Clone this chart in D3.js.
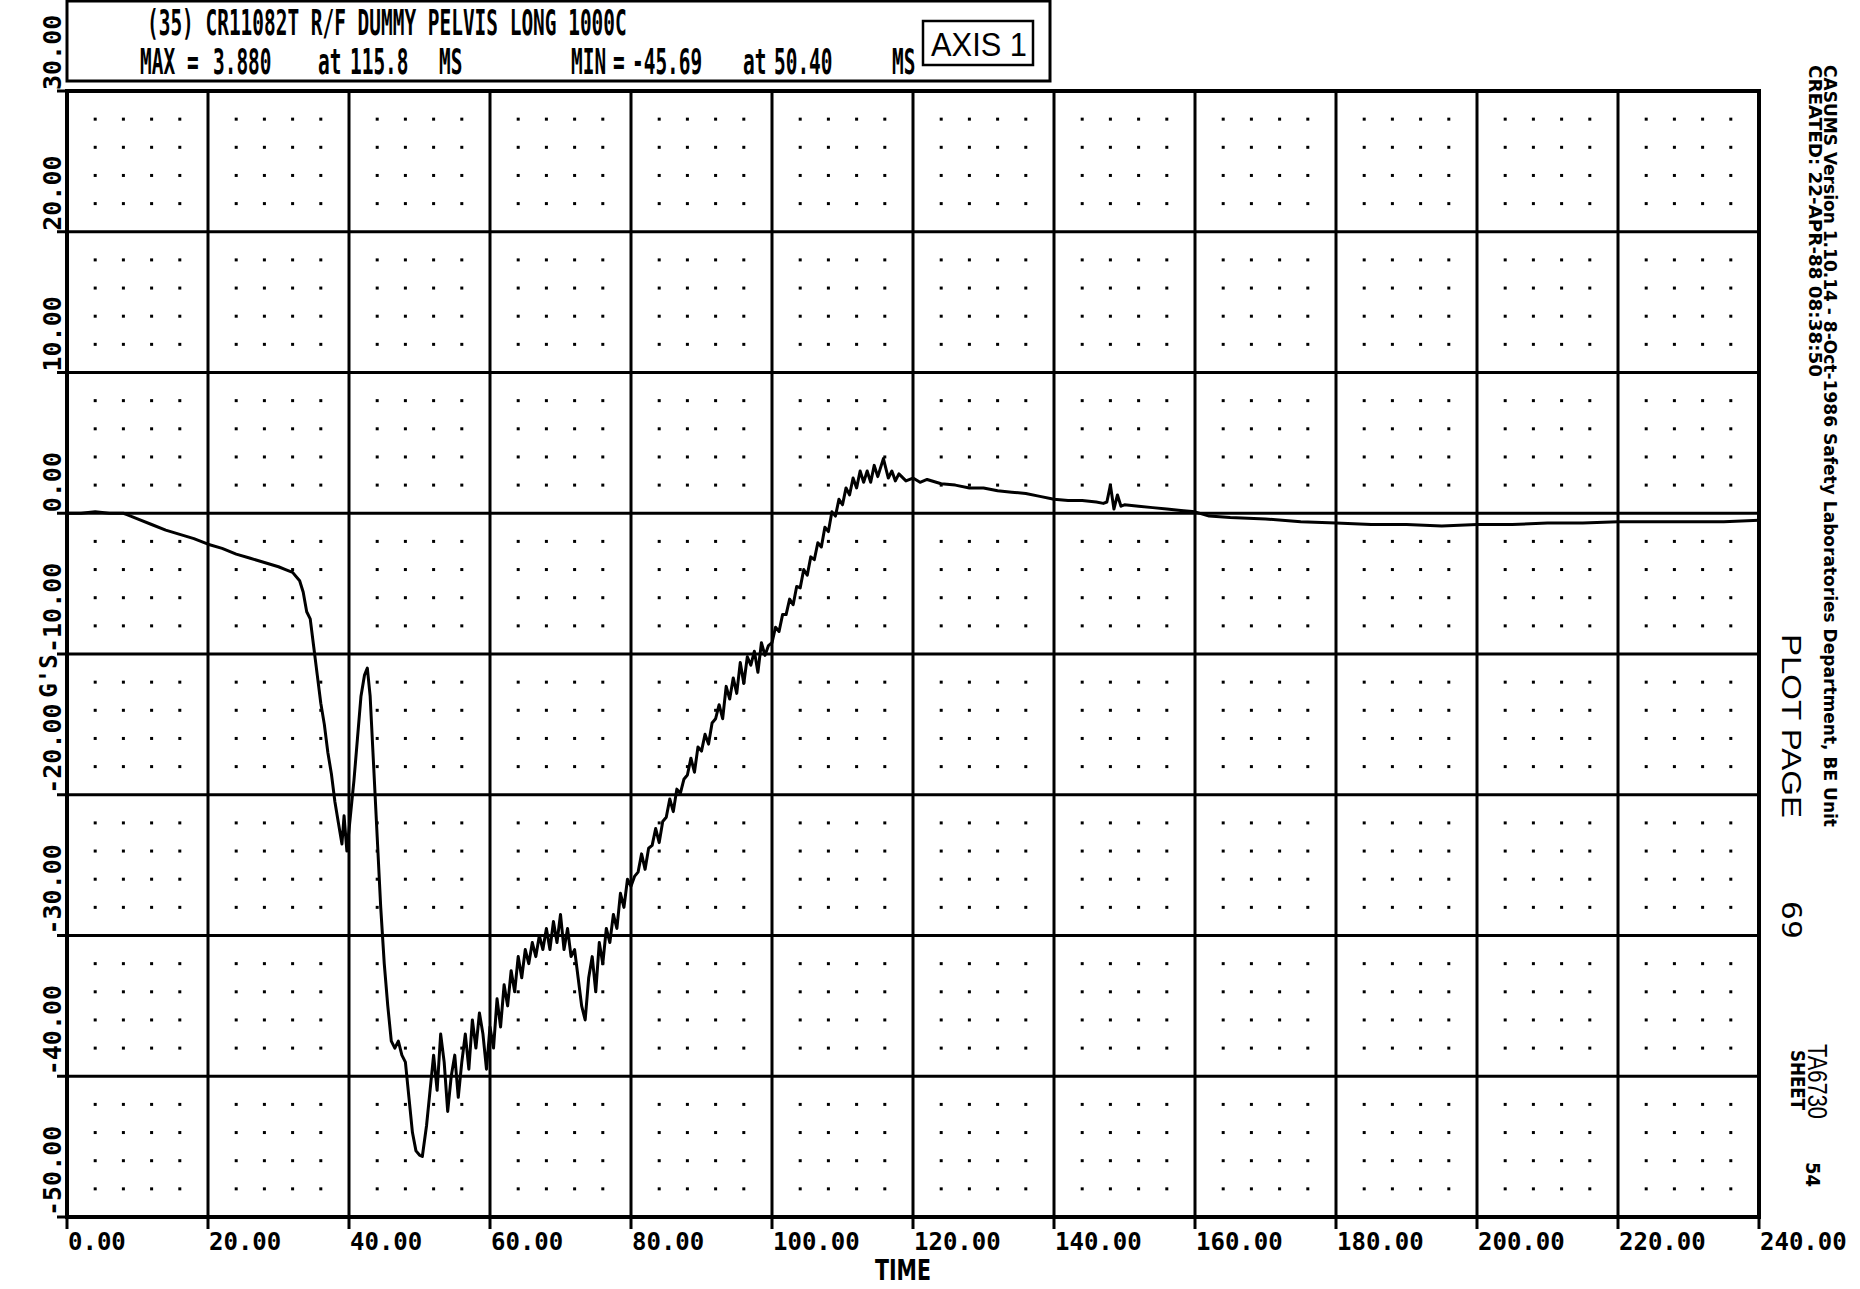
<!DOCTYPE html>
<html>
<head>
<meta charset="utf-8">
<script src="https://cdn.jsdelivr.net/npm/d3@7"></script>
<style>
  body { margin: 0; background: #fff; }
  svg { display: block; background: #fff; }
</style>
</head>
<body>
<svg id="graph"></svg>
<script>
// values (time in ms, pelvis accel in G's)
var timeMs = [
  0, 2, 4, 6, 8, 8.5, 10, 12, 14, 16, 18, 20, 22, 24, 26, 28, 30, 31, 32, 33, 33.5, 34, 34.5,
  35, 35.5, 36, 36.5, 37, 37.5, 38, 38.5, 39, 39.3, 39.7, 40.2, 40.7, 41.2, 41.7, 42.2, 42.6,
  43, 43.5, 44, 44.5, 45, 45.5, 46, 46.5, 47, 47.5, 48, 48.5,
  49, 49.5, 50, 50.4, 51, 51.5, 52, 52.5, 53, 53.5, 54, 54.5, 55, 55.5, 56, 56.5, 57, 57.5,
  58, 58.5, 59, 59.5, 60, 60.5, 61, 61.5, 62, 62.5, 63, 63.5, 64, 64.5, 65, 65.5, 66, 66.5,
  67, 67.5, 68, 68.5, 69, 69.5, 70, 70.5, 71, 71.5, 72, 72.5, 73, 73.5, 74, 74.5, 75, 75.5,
  76, 76.5, 77, 77.5, 78, 78.5, 79, 79.5, 80, 80.5, 81, 81.5, 82, 82.5, 83, 83.5, 84, 84.5,
  85, 85.5, 86, 86.5, 87, 87.5, 88, 88.5, 89, 89.5, 90, 90.5, 91, 91.5, 92, 92.5, 93, 93.5,
  94, 94.5, 95, 95.5, 96, 96.5, 97, 97.5, 98, 98.5, 99, 99.5, 100, 100.5, 101, 101.5, 102,
  102.5, 103, 103.5, 104, 104.5, 105, 105.5, 106, 106.5, 107, 107.5, 108, 108.5, 109, 109.5,
  110, 110.5, 111, 111.5, 112, 112.5, 113, 113.5, 114, 114.5, 115, 115.8, 116.5, 117, 117.5,
  118, 119, 120, 121, 122, 124, 126, 128, 130, 132, 134, 136, 138, 140, 142, 144, 146, 147,
  147.5, 148, 148.5, 149, 149.5, 150, 152, 154, 156, 158, 160, 162, 165, 170, 175, 180, 185,
  190, 195, 200, 205, 210, 215, 220, 225, 230, 235, 240
];
var pelvisG = [
  0, 0, 0.1, 0, 0, -0.1, -0.4, -0.8, -1.2, -1.5, -1.8, -2.2, -2.5, -2.9, -3.2, -3.5, -3.8, -4.0, -4.2, -4.8, -5.6, -7.0, -7.5,
  -9.5, -11.5, -13.5, -15, -17, -18.5, -20.5, -22, -23.5, -21.5, -24, -21.5, -19, -16, -13, -11.5, -11,
  -13, -18, -23, -28, -32, -35, -37.5, -38, -37.5, -38.5, -39, -41.5,
  -44, -45.3, -45.6, -45.7, -43.5, -41, -38.5, -41, -37, -39, -42.5, -40, -38.5, -41.5, -39, -37, -39.5, -36,
  -38, -35.5, -37, -39.5, -36.5, -38, -34.5, -36.5, -33.5, -35, -32.5, -34, -31.5, -33, -31, -32, -30.5, -31.5,
  -30, -31, -29.5, -31, -29, -30.5, -28.5, -31, -29.5, -31.5, -31, -33, -35, -36, -33, -31.5, -34, -30.5,
  -32, -29.5, -30.5, -28.5, -29.5, -27, -28, -26, -26.5, -25.8, -25.5, -24.2, -25.3, -23.8, -23.6, -22.4, -23.4, -21.9,
  -21.6, -20.3, -21.2, -19.6, -19.9, -18.9, -18.6, -17.4, -18.4, -16.6, -16.9, -15.7, -16.4, -14.9, -14.6, -13.6, -14.6, -12.3,
  -13.2, -11.7, -12.8, -10.6, -12.1, -10.2, -10.8, -9.8, -11.3, -9.2, -10.1, -9.4, -9.2, -8.1, -8.4, -7.2, -7.2,
  -6.1, -6.5, -5.2, -5.3, -4.0, -4.4, -3.1, -3.3, -2.1, -2.4, -1.0, -1.3, 0.1, -0.2, 1.0,
  0.6, 1.8, 1.3, 2.5, 1.8, 3.0, 2.2, 3.0, 2.2, 3.4, 2.6, 3.88, 2.5, 3.0, 2.3,
  2.8, 2.3, 2.5, 2.2, 2.4, 2.1, 2.0, 1.8, 1.8, 1.6, 1.5, 1.4, 1.2, 1.0, 0.9, 0.9, 0.8, 0.7,
  0.8, 2.0, 0.3, 1.3, 0.5, 0.6, 0.5, 0.4, 0.3, 0.2, 0.1, -0.2, -0.3, -0.4, -0.6, -0.7, -0.8, -0.8,
  -0.9, -0.8, -0.8, -0.7, -0.7, -0.6, -0.6, -0.6, -0.6, -0.5, -0.4
];

var xTicks = [0, 20, 40, 60, 80, 100, 120, 140, 160, 180, 200, 220, 240];
var xTickLabels = ["0.00", "20.00", "40.00", "60.00", "80.00", "100.00", "120.00",
                   "140.00", "160.00", "180.00", "200.00", "220.00", "240.00"];
var yTicks = [30, 20, 10, 0, -10, -20, -30, -40, -50];
var yTickLabels = ["30.00", "20.00", "10.00", "0.00", "-10.00", "-20.00", "-30.00", "-40.00", "-50.00"];

var titleText = "(35) CR11082T R/F DUMMY PELVIS LONG 1000C";
var statWords = ["MAX", "=", "3.880", "at", "115.8", "MS", "MIN", "=", "-45.69", "at", "50.40", "MS"];

var svg = d3.select("#graph")
    .attr("width", 1860)
    .attr("height", 1289);

svg.append("rect").attr("width", 1860).attr("height", 1289).attr("fill", "#fff");

// plot box in page pixels
var x = d3.scaleLinear().domain([0, 240]).range([67, 1759]),
    y = d3.scaleLinear().domain([-50, 30]).range([1217, 91]);

var g = svg.append("g");

// dotted minor lattice (every 4 ms, every 2 G)
var minorX = d3.range(0, 241, 4).filter(function(d) { return d % 20 !== 0; }),
    minorY = d3.range(-50, 31, 2).filter(function(d) { return d % 10 !== 0; });
var dots = [];
minorX.forEach(function(a) { minorY.forEach(function(b) { dots.push([a, b]); }); });
g.selectAll(".dot")
  .data(dots)
  .enter().append("rect")
    .attr("class", "dot")
    .attr("x", function(d) { return x(d[0]) - 1.5; })
    .attr("y", function(d) { return y(d[1]) - 1.5; })
    .attr("width", 3)
    .attr("height", 3)
    .attr("fill", "#000");

// major grid
g.selectAll(".vgrid")
  .data(xTicks)
  .enter().append("line")
    .attr("x1", function(d) { return x(d); })
    .attr("x2", function(d) { return x(d); })
    .attr("y1", y(30))
    .attr("y2", y(-50) + 12)
    .attr("stroke", "#000")
    .attr("stroke-width", 3);

g.selectAll(".hgrid")
  .data(yTicks)
  .enter().append("line")
    .attr("x1", x(0) - 10)
    .attr("x2", x(240))
    .attr("y1", function(d) { return y(d); })
    .attr("y2", function(d) { return y(d); })
    .attr("stroke", "#000")
    .attr("stroke-width", 3);

// thicker frame
g.append("rect")
    .attr("x", x(0)).attr("y", y(30))
    .attr("width", x(240) - x(0)).attr("height", y(-50) - y(30))
    .attr("fill", "none").attr("stroke", "#000").attr("stroke-width", 4);

// x tick labels
g.selectAll(".xlab")
  .data(xTicks)
  .enter().append("text")
    .attr("x", function(d) { return x(d) + 1; })
    .attr("y", 1250)
    .attr("font-family", "DejaVu Sans Mono")
    .attr("font-weight", "bold")
    .attr("font-size", 24)
    .text(function(d, i) { return xTickLabels[i]; });

// y tick labels, rotated, starting at the gridline
g.selectAll(".ylab")
  .data(yTicks)
  .enter().append("text")
    .attr("transform", function(d) { return "translate(61," + (y(d) - 1) + ") rotate(-90)"; })
    .attr("font-family", "DejaVu Sans Mono")
    .attr("font-weight", "bold")
    .attr("font-size", 25)
    .text(function(d, i) { return yTickLabels[i]; });

var narrow = "Liberation Sans Narrow, DejaVu Sans Condensed, sans-serif";

// axis titles
svg.append("text")
    .attr("x", 903).attr("y", 1280)
    .attr("text-anchor", "middle")
    .attr("font-family", narrow)
    .attr("font-weight", "bold")
    .attr("font-size", 28)
    .attr("textLength", 56).attr("lengthAdjust", "spacingAndGlyphs")
    .text("TIME");

svg.append("text")
    .attr("transform", "translate(57,676) rotate(-90)")
    .attr("text-anchor", "middle")
    .attr("font-family", "DejaVu Sans Mono")
    .attr("font-weight", "bold")
    .attr("font-size", 24)
    .text("G'S");

// the trace
var line = d3.line()
    .x(function(d, i) { return x(timeMs[i]); })
    .y(function(d) { return y(d); });

g.append("path")
    .datum(pelvisG)
    .attr("d", line)
    .attr("fill", "none")
    .attr("stroke", "#000")
    .attr("stroke-width", 3)
    .attr("stroke-linejoin", "round");

// header box
var head = svg.append("g");
head.append("rect")
    .attr("x", 67).attr("y", 1).attr("width", 983).attr("height", 80)
    .attr("fill", "#fff").attr("stroke", "#000").attr("stroke-width", 3);

// plotter-style condensed mono lettering
var squeeze = 0.54;
head.append("text")
    .attr("transform", "translate(147,35) scale(" + squeeze + ",1)")
    .attr("font-family", "DejaVu Sans Mono").attr("font-weight", "bold").attr("font-size", 36)
    .text(titleText);

// left page x of each word on the MAX / MIN line
var statLeft = [140, 187, 213, 318, 350, 439, 571, 613, 632, 743, 774, 892];
head.selectAll(".stat")
  .data(statWords)
  .enter().append("text")
    .attr("class", "stat")
    .attr("transform", function(d, i) { return "translate(" + statLeft[i] + ",74) scale(" + squeeze + ",1)"; })
    .attr("font-family", "DejaVu Sans Mono").attr("font-weight", "bold").attr("font-size", 36)
    .text(function(d) { return d; });

head.append("rect")
    .attr("x", 923).attr("y", 21).attr("width", 110).attr("height", 44)
    .attr("fill", "none").attr("stroke", "#000").attr("stroke-width", 2.5);
head.append("text")
    .attr("x", 931).attr("y", 56)
    .attr("font-family", "Liberation Sans, sans-serif").attr("font-size", 33)
    .attr("textLength", 96).attr("lengthAdjust", "spacingAndGlyphs")
    .text("AXIS 1");

// right margin notes, rotated to read downwards
function side(txt, px, py, size, len, fam, weight) {
  svg.append("text")
      .attr("transform", "translate(" + px + "," + py + ") rotate(90)")
      .attr("font-family", fam || narrow)
      .attr("font-weight", weight || "bold")
      .attr("font-size", size)
      .attr("textLength", len).attr("lengthAdjust", "spacingAndGlyphs")
      .text(txt);
}
side("CASUMS Version 1.10.14 - 8-Oct-1986   Safety Laboratories Department, BE Unit", 1824, 65, 17, 762);
side("CREATED: 22-APR-88 08:38:50", 1809, 65, 17, 312);
side("PLOT PAGE", 1782, 634, 27, 184, "Liberation Sans, sans-serif", "normal");
side("69", 1782, 901, 27, 38, "DejaVu Sans Mono", "normal");
side("TA6730", 1808, 1044, 27, 75, "Liberation Sans, sans-serif", "normal");
side("SHEET", 1791, 1050, 20, 60);
side("54", 1806, 1162, 20, 25);
</script>
</body>
</html>
